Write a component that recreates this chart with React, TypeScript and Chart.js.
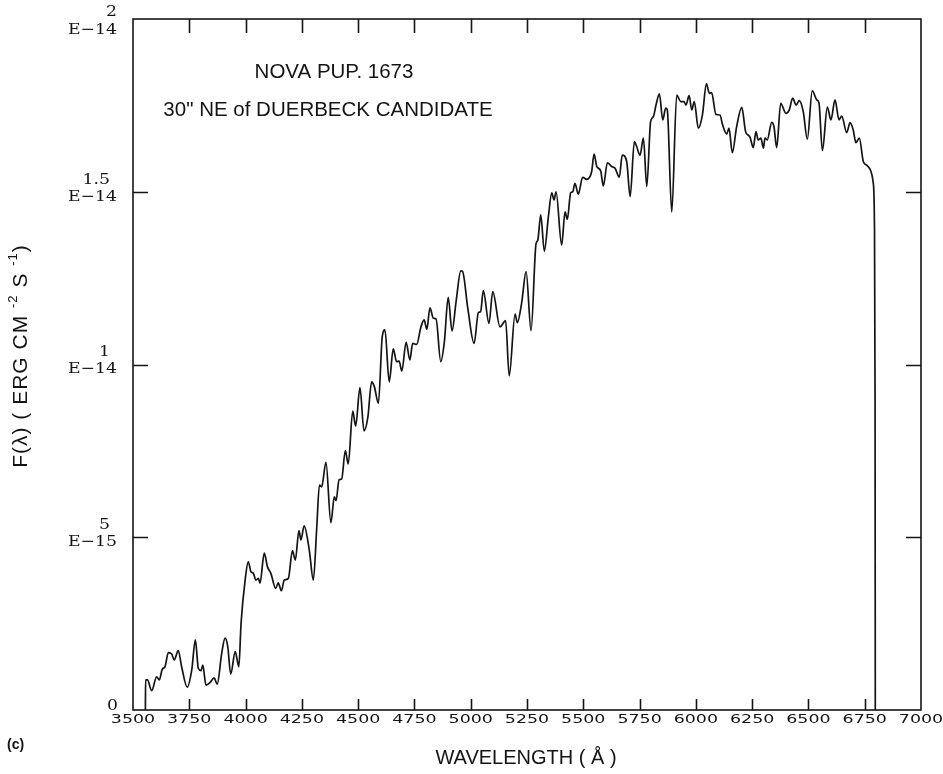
import React, { useEffect, useRef } from "react";
import { Chart, registerables } from "chart.js";

Chart.register(...registerables);

// Spectrum: wavelength in Angstrom, flux in units of 1E-14 erg cm^-2 s^-1
const WAVELENGTH = [
  3555, 3556, 3564, 3583, 3605, 3617, 3630, 3642, 3657, 3672, 3683, 3701, 3716, 3741, 3761, 3777,
  3790, 3802, 3810, 3824, 3842, 3860, 3874, 3894, 3909, 3921, 3934, 3954, 3970, 3980, 3998, 4012,
  4024, 4034, 4046, 4057, 4064, 4083, 4097, 4112, 4134, 4145, 4159, 4172, 4190, 4208, 4221, 4237,
  4246, 4260, 4283, 4301, 4316, 4328, 4338, 4357, 4379, 4394, 4402, 4415, 4427, 4443, 4456, 4476,
  4489, 4508, 4526, 4543, 4560, 4572, 4590, 4607, 4619, 4638, 4656, 4671, 4682, 4694, 4713, 4730,
  4742, 4760, 4779, 4793, 4805, 4819, 4834, 4846, 4867, 4883, 4900, 4917, 4935, 4956, 4964, 4987,
  5015, 5034, 5044, 5056, 5081, 5098, 5130, 5155, 5171, 5197, 5207, 5226, 5246, 5268, 5290, 5298,
  5311, 5327, 5345, 5360, 5370, 5379, 5404, 5419, 5429, 5444, 5453, 5463, 5478, 5497, 5515, 5537,
  5548, 5560, 5577, 5589, 5607, 5626, 5641, 5660, 5673, 5693, 5708, 5727, 5737, 5752, 5767, 5782,
  5799, 5811, 5823, 5838, 5853, 5866, 5873, 5893, 5915, 5933, 5947, 5956, 5970, 5982, 5993, 6011,
  6029, 6047, 6060, 6070, 6089, 6107, 6119, 6137, 6147, 6162, 6181, 6204, 6221, 6240, 6255, 6267,
  6277, 6289, 6300, 6307, 6317, 6337, 6347, 6359, 6377, 6400, 6415, 6430, 6445, 6459, 6477, 6495,
  6517, 6537, 6547, 6562, 6584, 6600, 6618, 6636, 6648, 6670, 6685, 6699, 6711, 6726, 6744, 6759,
  6774, 6788, 6793, 6796, 6797,
];

const FLUX = [
  0, 0.087, 0.087, 0.056, 0.096, 0.087, 0.118, 0.125, 0.166, 0.162, 0.145, 0.172, 0.125, 0.066, 0.116, 0.203,
  0.121, 0.114, 0.13, 0.072, 0.079, 0.093, 0.075, 0.164, 0.208, 0.183, 0.104, 0.169, 0.125, 0.251, 0.376, 0.429,
  0.4, 0.396, 0.376, 0.381, 0.367, 0.454, 0.415, 0.396, 0.352, 0.368, 0.345, 0.376, 0.381, 0.461, 0.434, 0.519,
  0.492, 0.533, 0.463, 0.376, 0.526, 0.651, 0.646, 0.717, 0.542, 0.617, 0.606, 0.666, 0.669, 0.751, 0.712, 0.865,
  0.822, 0.933, 0.808, 0.847, 0.95, 0.936, 0.888, 1.08, 1.1, 0.95, 1.045, 1.008, 1.01, 0.981, 1.064, 1.013,
  1.061, 1.058, 1.109, 1.129, 1.102, 1.164, 1.134, 1.132, 1.008, 1.066, 1.194, 1.097, 1.182, 1.271, 1.269, 1.163,
  1.061, 1.15, 1.153, 1.214, 1.119, 1.211, 1.109, 1.127, 0.967, 1.146, 1.121, 1.177, 1.269, 1.098, 1.349, 1.36,
  1.433, 1.328, 1.428, 1.497, 1.476, 1.5, 1.346, 1.442, 1.42, 1.497, 1.5, 1.524, 1.493, 1.542, 1.536, 1.558,
  1.609, 1.573, 1.561, 1.517, 1.584, 1.573, 1.568, 1.542, 1.606, 1.587, 1.486, 1.645, 1.631, 1.606, 1.655, 1.515,
  1.703, 1.717, 1.751, 1.783, 1.708, 1.742, 1.737, 1.441, 1.78, 1.761, 1.761, 1.751, 1.778, 1.737, 1.761, 1.684,
  1.722, 1.812, 1.785, 1.787, 1.724, 1.722, 1.693, 1.667, 1.684, 1.613, 1.688, 1.744, 1.674, 1.659, 1.628, 1.674,
  1.65, 1.655, 1.626, 1.655, 1.65, 1.701, 1.688, 1.628, 1.756, 1.727, 1.737, 1.771, 1.751, 1.764, 1.732, 1.652,
  1.792, 1.766, 1.756, 1.619, 1.745, 1.708, 1.766, 1.708, 1.719, 1.671, 1.7, 1.679, 1.642, 1.655, 1.587, 1.577,
  1.565, 1.525, 1.418, 0.897, 0,
];

const X_TICKS = [3500, 3750, 4000, 4250, 4500, 4750, 5000, 5250, 5500, 5750, 6000, 6250, 6500, 6750, 7000];
const Y_TICKS = [0, 0.5, 1, 1.5, 2];
const Y_TICK_MANTISSA = ["0", "5", "1", "1.5", "2"];
const Y_TICK_EXPONENT = ["", "E\u221215", "E\u221214", "E\u221214", "E\u221214"];
const TITLE_LINES = ["NOVA PUP. 1673", "30\" NE of DUERBECK CANDIDATE"];
const X_TITLE = "WAVELENGTH ( \u00C5 )";
const Y_TITLE_PARTS: [string, boolean][] = [
  ["F(\u03BB) ( ERG CM ", false],
  ["-2", true],
  [" S ", false],
  ["-1", true],
  [")", false],
];
const PANEL_TAG = "(c)";

const INK = "#141414";

function stretched(ctx: CanvasRenderingContext2D, text: string, x: number, y: number, sx: number, align: CanvasTextAlign) {
  ctx.save();
  ctx.translate(x, y);
  ctx.scale(sx, 1);
  ctx.textAlign = align;
  ctx.fillText(text, 0, 0);
  ctx.restore();
}

const framePlugin = {
  id: "spectrumFrame",
  afterDraw(chart: any) {
    const { ctx, chartArea } = chart;
    const { left, right, top, bottom } = chartArea;
    const xs = chart.scales.x;
    const ys = chart.scales.y;
    ctx.save();
    ctx.strokeStyle = INK;
    ctx.fillStyle = INK;
    ctx.lineWidth = 1.6;
    ctx.strokeRect(left, top, right - left, bottom - top);

    // inward tick marks on all four sides
    ctx.beginPath();
    X_TICKS.slice(1, -1).forEach((v) => {
      const px = Math.round(xs.getPixelForValue(v)) + 0.5;
      ctx.moveTo(px, bottom);
      ctx.lineTo(px, bottom - 11);
      ctx.moveTo(px, top);
      ctx.lineTo(px, top + 14);
    });
    Y_TICKS.slice(1, -1).forEach((v) => {
      const py = Math.round(ys.getPixelForValue(v)) + 0.5;
      ctx.moveTo(left, py);
      ctx.lineTo(left + 15, py);
      ctx.moveTo(right, py);
      ctx.lineTo(right - 15, py);
    });
    ctx.stroke();

    // x tick labels
    ctx.font = "13px 'DejaVu Sans'";
    ctx.textBaseline = "middle";
    X_TICKS.forEach((v) => {
      stretched(ctx, String(v), xs.getPixelForValue(v), bottom + 10, 1.34, "center");
    });

    // y tick labels: mantissa above, exponent below
    ctx.font = "15px 'DejaVu Serif'";
    Y_TICKS.forEach((v, i) => {
      const py = ys.getPixelForValue(v);
      if (!Y_TICK_EXPONENT[i]) {
        stretched(ctx, Y_TICK_MANTISSA[i], left - 15, py - 4, 1.15, "right");
        return;
      }
      const isTop = i === Y_TICKS.length - 1;
      stretched(ctx, Y_TICK_MANTISSA[i], isTop ? left - 16 : left - 23, py + (isTop ? -7 : -12), 1.15, "right");
      stretched(ctx, Y_TICK_EXPONENT[i], left - 16, py + (isTop ? 11 : 5), 1.15, "right");
    });

    // annotation lines
    ctx.font = "20.5px 'Liberation Sans'";
    ctx.textAlign = "center";
    ctx.fillText(TITLE_LINES[0], 334, 72);
    ctx.fillText(TITLE_LINES[1], 328, 110);

    // x axis title
    ctx.font = "20px 'Liberation Sans'";
    ctx.fillText(X_TITLE, 526, 758);

    // panel tag
    ctx.font = "bold 14px 'Liberation Sans'";
    ctx.textAlign = "left";
    ctx.fillText(PANEL_TAG, 7, 745);

    // y axis title with superscripts, rotated
    ctx.save();
    ctx.translate(21, 356);
    ctx.rotate(-Math.PI / 2);
    (ctx as any).letterSpacing = "1px";
    const mainFont = "21px 'Liberation Sans'";
    const supFont = "13px 'Liberation Sans'";
    let total = 0;
    Y_TITLE_PARTS.forEach(([t, sup]) => {
      ctx.font = sup ? supFont : mainFont;
      total += ctx.measureText(t).width;
    });
    let cx = -total / 2;
    ctx.textAlign = "left";
    Y_TITLE_PARTS.forEach(([t, sup]) => {
      ctx.font = sup ? supFont : mainFont;
      ctx.fillText(t, cx, sup ? -8 : 0);
      cx += ctx.measureText(t).width;
    });
    ctx.restore();

    ctx.restore();
  },
};

export default function App() {
  const canvasRef = useRef<HTMLCanvasElement | null>(null);

  useEffect(() => {
    document.body.style.margin = "0";
    const canvas = canvasRef.current;
    if (!canvas) return;
    const points = WAVELENGTH.map((w, i) => ({ x: w, y: FLUX[i] }));
    const chart = new Chart(canvas, {
      type: "line",
      data: {
        datasets: [
          {
            data: points,
            borderColor: INK,
            borderWidth: 1.7,
            pointRadius: 0,
            cubicInterpolationMode: "monotone",
            fill: false,
          },
        ],
      },
      options: {
        animation: false,
        responsive: false,
        devicePixelRatio: 1,
        layout: { padding: { left: 0, right: 22, top: 19, bottom: 0 } },
        plugins: { legend: { display: false }, tooltip: { enabled: false } },
        scales: {
          x: {
            type: "linear",
            min: 3500,
            max: 7000,
            ticks: { display: false, stepSize: 250 },
            grid: { display: false },
            border: { display: false },
            afterFit: (s: any) => {
              s.height = 64;
            },
          },
          y: {
            type: "linear",
            min: 0,
            max: 2,
            ticks: { display: false, stepSize: 0.5 },
            grid: { display: false },
            border: { display: false },
            afterFit: (s: any) => {
              s.width = 133;
            },
          },
        },
      },
      plugins: [framePlugin],
    });
    return () => chart.destroy();
  }, []);

  return (
    <div style={{ width: 943, height: 774, background: "#fff" }}>
      <canvas ref={canvasRef} width={943} height={774} style={{ display: "block" }} />
    </div>
  );
}
